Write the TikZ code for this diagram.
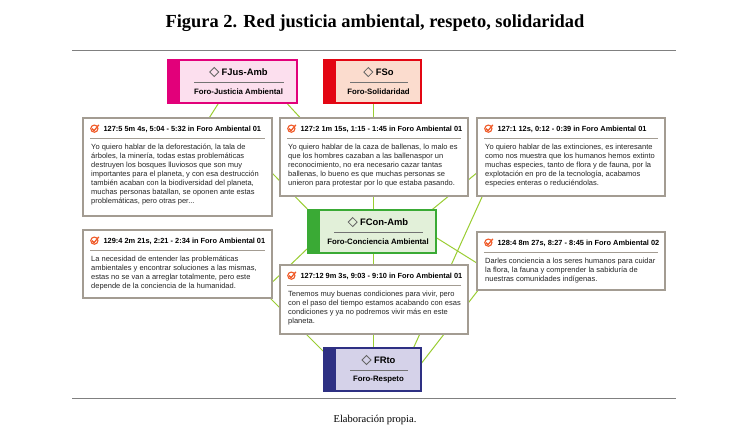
\documentclass[tikz,border=0pt]{standalone}
\usepackage{fontspec}
\setmainfont{Liberation Sans}
\newfontfamily\titlefont{Liberation Serif}
\begin{document}
\begin{tikzpicture}[x=1pt,y=-1pt,
  lnk/.style={draw=lnkc,line width=1pt},
  qb/.style={draw=qbc,line width=1.2pt,fill=white},
  hdr/.style={anchor=north west,inner sep=0pt,font=\fontsize{7.4}{9}\selectfont\bfseries},
  body/.style={anchor=north west,inner sep=0pt,align=left,font=\fontsize{7.5}{9}\selectfont,text=black!85},
  fname/.style={inner sep=0pt,font=\fontsize{9.4}{11}\selectfont\bfseries},
  fsub/.style={inner sep=0pt,font=\fontsize{7.8}{9}\selectfont\bfseries}]
\definecolor{lnkc}{HTML}{9ACD32}
\definecolor{qbc}{HTML}{A39C92}
\definecolor{chk}{HTML}{F05A28}
\useasboundingbox (0,0) rectangle (750,440);
\fill[white] (0,0) rectangle (750,440);
\node[font=\titlefont\fontsize{18.4}{22}\selectfont\bfseries] (title) at (375,23) {Figura 2. Red justicia ambiental, respeto, solidaridad};
\draw[gray,line width=.7pt] (72,50) coordinate (r1a) -- (676,50) coordinate (r1b);
\draw[gray,line width=.7pt] (72,398) coordinate (r2a) -- (676,398) coordinate (r2b);
\node[font=\titlefont\fontsize{10.5}{12}\selectfont] (src) at (375,420) {Elaboración propia.};
% link anchor coordinates
\coordinate (a1) at (232,82); \coordinate (b1) at (178,167);
\coordinate (a2) at (230,130); \coordinate (b2) at (320,222);
\coordinate (a3) at (270,85); \coordinate (b3) at (330,150);
\coordinate (a4) at (373,82); \coordinate (b4) at (373,370);
\coordinate (a6) at (400,236); \coordinate (b6) at (495,158);
\coordinate (a7) at (492,175); \coordinate (b7) at (408,360);
\coordinate (a8) at (400,215); \coordinate (b8) at (520,290);
\coordinate (a9) at (330,227); \coordinate (b9) at (262,292);
\coordinate (a10) at (240,268); \coordinate (b10) at (340,368);
\coordinate (a12) at (410,378); \coordinate (b12) at (500,262);
\foreach \p/\q in {a1/b1,a2/b2,a3/b3,a4/b4,a6/b6,a7/b7,a8/b8,a9/b9,a10/b10,a12/b12} \draw[lnk] (\p)--(\q);
% forum boxes
\newcommand\forum[9]{% name x1 y1 x2 y2 fill border title subtitle
  \fill[#6] (#2,#3) rectangle (#4,#5);
  \fill[#7] (#2,#3) rectangle ({#2+12},#5);
  \node[draw=#7,line width=1.2pt,minimum width={#4-#2},minimum height={#5-#3},inner sep=0pt] (#1) at ({(#2+#4)/2},{(#3+#5)/2}) {};
  \node[fname] (#1t) at ({(#2+#4)/2+6},{#3+12}) {\tikz[baseline=-3pt]\draw[black!60,line width=.8pt] (0,0)--(4.5pt,4.5pt)--(9pt,0)--(4.5pt,-4.5pt)--cycle;\ #8};
  \draw[black!55,line width=.7pt] ({#2+26},{#3+22}) -- ({#4-13},{#3+22});
  \node[fsub] (#1s) at ({(#2+#4)/2+6},{#3+32}) {#9};
}
\definecolor{jf}{HTML}{FCDFEE}\definecolor{jb}{HTML}{E2007A}
\definecolor{sf}{HTML}{FBDCCE}\definecolor{sb}{HTML}{E30613}
\definecolor{cf}{HTML}{E2F0D9}\definecolor{cb}{HTML}{3AAA35}
\definecolor{rf}{HTML}{D5D2E9}\definecolor{rb}{HTML}{2E3083}
\forum{fjus}{168}{60}{297}{103}{jf}{jb}{FJus-Amb}{Foro-Justicia Ambiental}
\forum{fso}{324}{60}{421}{103}{sf}{sb}{FSo}{Foro-Solidaridad}
\forum{fcon}{308}{210}{436}{253}{cf}{cb}{FCon-Amb}{Foro-Conciencia Ambiental}
\forum{frto}{324}{348}{421}{391}{rf}{rb}{FRto}{Foro-Respeto}
% quote boxes
\newcommand\quo[7]{% name x1 y1 x2 y2 header body
  \node[qb,minimum width={#4-#2},minimum height={#5-#3},inner sep=0pt] (#1) at ({(#2+#4)/2},{(#3+#5)/2}) {};
  \node[hdr] (#1h) at ({#2+7},{#3+6}) {\tikz[baseline=-2.5pt]{\draw[chk,line width=1.1pt] (0,0) circle (3.6pt);\draw[chk,line width=1.3pt] (-2.3pt,0)--(-.3pt,-2pt)--(4.5pt,3.8pt);}\ \ #6};
  \draw[qbc,line width=.8pt] ({#2+7},{#3+20}) -- ({#4-7},{#3+20});
  \node[body] (#1b) at ({#2+8},{#3+26}) {#7};
}
\quo{q5}{83}{118}{272}{216}{127:5 5m 4s, 5:04 - 5:32 in Foro Ambiental 01}{Yo quiero hablar de la deforestación, la tala de\\árboles, la minería, todas estas problemáticas\\destruyen los bosques lluviosos que son muy\\importantes para el planeta, y con esa destrucción\\también acaban con la biodiversidad del planeta,\\muchas personas batallan, se oponen ante estas\\problemáticas, pero otras per...}
\quo{q2}{280}{118}{468}{196}{127:2 1m 15s, 1:15 - 1:45 in Foro Ambiental 01}{Yo quiero hablar de la caza de ballenas, lo malo es\\que los hombres cazaban a las ballenaspor un\\reconocimiento, no era necesario cazar tantas\\ballenas, lo bueno es que muchas personas se\\unieron para protestar por lo que estaba pasando.}
\quo{q1}{477}{118}{665}{196}{127:1 12s, 0:12 - 0:39 in Foro Ambiental 01}{Yo quiero hablar de las extinciones, es interesante\\como nos muestra que los humanos hemos extinto\\muchas especies, tanto de flora y de fauna, por la\\explotación en pro de la tecnología, acabamos\\especies enteras o reduciéndolas.}
\quo{q9}{83}{230}{272}{298}{129:4 2m 21s, 2:21 - 2:34 in Foro Ambiental 01}{La necesidad de entender las problemáticas\\ambientales y encontrar soluciones a las mismas,\\estas no se van a arreglar totalmente, pero este\\depende de la conciencia de la humanidad.}
\quo{q8}{477}{232}{665}{290}{128:4 8m 27s, 8:27 - 8:45 in Foro Ambiental 02}{Darles conciencia a los seres humanos para cuidar\\la flora, la fauna y comprender la sabiduría de\\nuestras comunidades indígenas.}
\quo{q12}{280}{265}{468}{334}{127:12 9m 3s, 9:03 - 9:10 in Foro Ambiental 01}{Tenemos muy buenas condiciones para vivir, pero\\con el paso del tiempo estamos acabando con esas\\condiciones y ya no podremos vivir más en este\\planeta.}
\end{tikzpicture}
\end{document}
